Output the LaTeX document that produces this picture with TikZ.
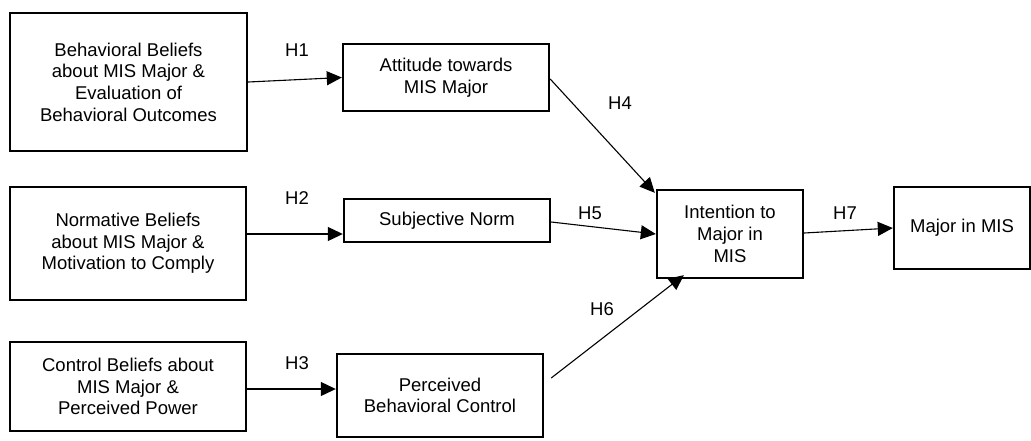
\documentclass[tikz,border=0pt]{standalone}
\usepackage{fontspec}
\setmainfont{Liberation Sans}
\usetikzlibrary{arrows.meta,calc}
\begin{document}
\begin{tikzpicture}[x=1pt,y=-1pt,
  box/.style={draw, rectangle, line width=2.4pt, align=center, inner sep=0pt,
    font=\fontsize{18.5}{21.7}\selectfont},
  arr/.style={line width=1.1pt, -{Triangle[length=15pt,width=14pt]}},
  lab/.style={inner sep=0pt, font=\fontsize{18.5}{21.7}\selectfont}]
\useasboundingbox (0,0) rectangle (1031,440);
% left column
\node[box, minimum width=237pt, minimum height=138pt] (b1) at (128.5,82)
  {Behavioral Beliefs\\about MIS Major \&\\Evaluation of\\Behavioral Outcomes};
\node[box, minimum width=236pt, minimum height=113pt] (b2) at (128,243.5)
  {Normative Beliefs\\about MIS Major \&\\Motivation to Comply};
\node[box, minimum width=236pt, minimum height=89pt] (b3) at (128,386.5)
  {Control Beliefs about\\MIS Major \&\\Perceived Power};
% middle column
\node[box, minimum width=206pt, minimum height=67pt] (att) at (446,77.5)
  {Attitude towards\\MIS Major};
\node[box, minimum width=206pt, minimum height=43pt] (sn) at (447,220.5)
  {Subjective Norm};
\node[box, minimum width=206pt, minimum height=83pt] (pbc) at (440,395.5)
  {Perceived\\Behavioral Control};
% right
\node[box, minimum width=146pt, minimum height=88pt] (int) at (730,234)
  {Intention to\\Major in\\MIS};
\node[box, minimum width=136pt, minimum height=82pt] (maj) at (962,228)
  {Major in MIS};
% connectors
\draw[arr] (b1.east) -- (att.west);
\draw[arr] ([yshift=9.5pt]b2.east) -- ([yshift=-13.5pt]sn.west);
\draw[arr] ([yshift=-2.5pt]b3.east) -- ([yshift=6.5pt]pbc.west);
\draw[arr] ([yshift=-1.5pt]att.east) -- ([xshift=-1pt,yshift=-4pt]int.north west);
\draw[arr] ([yshift=-1.5pt]sn.east) -- (int.west);
\draw[arr] ([xshift=7pt,yshift=17.5pt]pbc.east) -- ([xshift=28pt,yshift=4pt]int.south west);
\draw[arr] ([yshift=1pt]int.east) -- (maj.west);
% labels
\node[lab] (h1) at (297,50) {H1};
\node[lab] (h2) at (297,198) {H2};
\node[lab] (h3) at (297,363) {H3};
\node[lab] (h4) at (620,103) {H4};
\node[lab] (h5) at (590,213) {H5};
\node[lab] (h6) at (602,309) {H6};
\node[lab] (h7) at (845,213) {H7};
\end{tikzpicture}
\end{document}
